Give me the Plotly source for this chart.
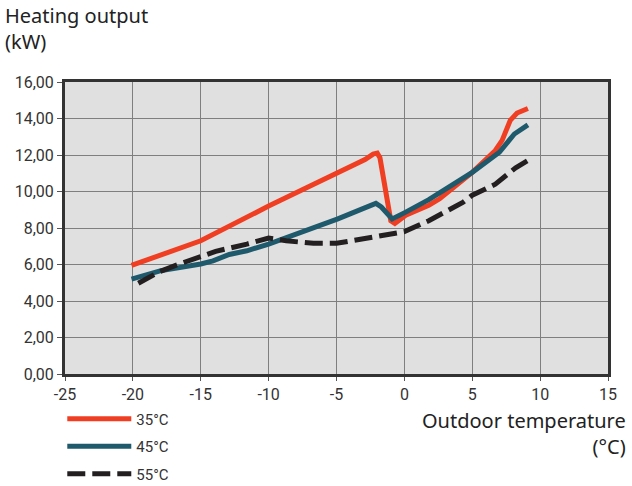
import plotly.graph_objects as go

# Outdoor temperature (°C) and heating output (kW)
t35 = [-20.1, -15.0, -10.0, -5.5, -2.9, -2.3, -2.0, -1.8, -1.0, -0.7, 0.1, 1.8, 2.6, 5.0, 6.7, 7.2, 7.8, 8.3, 9.1]
p35 = [5.95, 7.3, 9.2, 10.85, 11.75, 12.05, 12.1, 11.85, 8.4, 8.25, 8.7, 9.25, 9.6, 11.05, 12.25, 12.8, 13.9, 14.3, 14.55]

t45 = [-20.1, -18.0, -15.0, -14.1, -12.9, -11.6, -10.0, -8.2, -6.7, -4.9, -3.1, -2.1, -1.7, -0.9, 0.1, 1.8, 5.0, 7.0, 8.1, 9.1]
p45 = [5.2, 5.65, 6.03, 6.2, 6.55, 6.75, 7.12, 7.6, 8.03, 8.5, 9.05, 9.35, 9.15, 8.5, 8.87, 9.55, 11.05, 12.15, 13.15, 13.65]

t55 = [-19.6, -18.0, -16.8, -15.0, -13.9, -11.6, -10.0, -8.7, -6.7, -5.0, -3.1, -1.0, 0.0, 1.8, 4.3, 5.0, 6.7, 8.2, 9.1]
p55 = [4.97, 5.62, 5.97, 6.4, 6.72, 7.12, 7.45, 7.3, 7.16, 7.16, 7.4, 7.67, 7.8, 8.4, 9.4, 9.8, 10.4, 11.3, 11.7]

series_names = ["35°C", "45°C", "55°C"]
x_ticks = [-25, -20, -15, -10, -5, 0, 5, 10, 15]
y_ticks = [0, 2, 4, 6, 8, 10, 12, 14, 16]

tick_font = dict(family="Liberation Sans Narrow, Roboto, Arial Narrow, sans-serif", size=16, color="#333333")

fig = go.Figure()
fig.add_trace(go.Scatter(x=t35, y=p35, mode="lines", name=series_names[0], legendgroup="a",
                         line=dict(color="#f03e22", width=5)))
fig.add_trace(go.Scatter(x=t45, y=p45, mode="lines", name=series_names[1], legendgroup="b",
                         line=dict(color="#1e5a6c", width=5)))
fig.add_trace(go.Scatter(x=t55, y=p55, mode="lines", name=series_names[2], legendgroup="c",
                         line=dict(color="#231f20", width=5, dash="18px,7px")))

fig.update_layout(
    width=632, height=486,
    margin=dict(l=65, r=24, t=82, b=112, autoexpand=False),
    paper_bgcolor="white",
    plot_bgcolor="#e0e0e0",
    separators=", ",
    showlegend=True,
    legend=dict(
        x=-0.005, y=-0.098, xanchor="left", yanchor="top",
        bgcolor="rgba(0,0,0,0)",
        font=dict(family="Liberation Sans Narrow, Roboto, sans-serif", size=15, color="#333333"),
        itemwidth=64,
        traceorder="grouped",
        tracegroupgap=5,
    ),
    xaxis=dict(
        range=[-25, 15], tickvals=x_ticks, ticktext=[str(v) for v in x_ticks],
        showgrid=True, gridcolor="#7f7f7f", gridwidth=1,
        zeroline=False,
        showline=True, linecolor="#333333", linewidth=3, mirror=True,
        ticks="outside", ticklen=4, tickcolor="#555555",
        tickfont=tick_font,
    ),
    yaxis=dict(
        range=[0, 16], tickvals=y_ticks, tickformat=".2f",
        showgrid=True, gridcolor="#7f7f7f", gridwidth=1,
        zeroline=False,
        showline=True, linecolor="#333333", linewidth=3, mirror=True,
        ticks="outside", ticklen=5, tickcolor="#555555",
        tickfont=tick_font,
    ),
    annotations=[
        dict(text="Heating output<br>(kW)", xref="paper", yref="paper",
             x=-62/543, y=1 + 82/292, xanchor="left", yanchor="top", align="left",
             showarrow=False,
             font=dict(family="Noto Sans, Open Sans, sans-serif", size=20, color="#222222")),
        dict(text="Outdoor temperature<br>(°C)", xref="paper", yref="paper",
             x=1 + 20/543, y=-31/292, xanchor="right", yanchor="top", align="right",
             showarrow=False,
             font=dict(family="Noto Sans, Open Sans, sans-serif", size=20, color="#222222")),
    ],
)

fig.write_html("out.html", config={"displayModeBar": False},
               post_script="document.body.style.margin='0';document.body.style.padding='0';")
